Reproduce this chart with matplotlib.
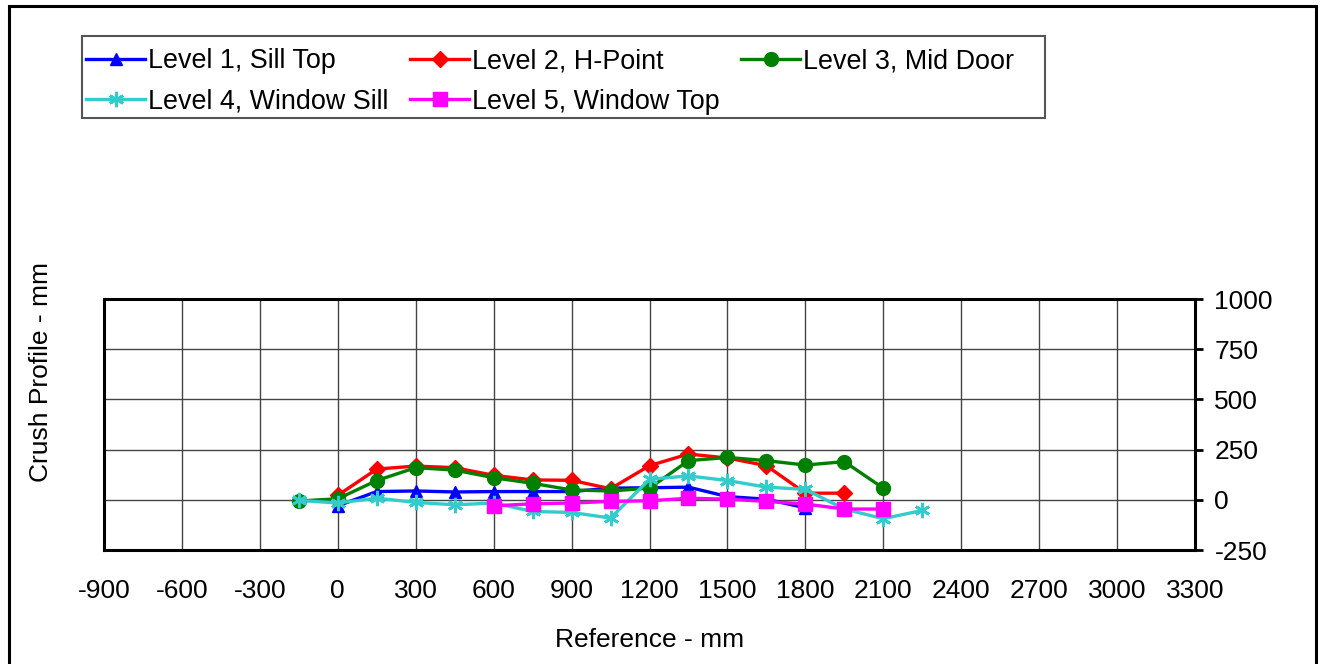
import matplotlib
matplotlib.use("Agg")
import matplotlib.pyplot as plt
from matplotlib.patches import Rectangle

plt.rcParams["font.family"] = ["Liberation Sans", "DejaVu Sans"]
plt.rcParams["font.size"] = 19
plt.rcParams["axes.unicode_minus"] = False

# data
x1 = [0, 150, 300, 450, 600, 750, 900, 1050, 1200, 1350, 1500, 1650, 1800]
y1 = [-30, 41, 44, 39, 41, 41, 41, 58, 60, 63, 16, 3, -40]

x2 = [0, 150, 300, 450, 600, 750, 900, 1050, 1200, 1350, 1500, 1650, 1800, 1950]
y2 = [22, 153, 168, 160, 122, 99, 97, 55, 170, 228, 208, 170, 33, 33]

x3 = [-150, 0, 150, 300, 450, 600, 750, 900, 1050, 1200, 1350, 1500, 1650, 1800, 1950, 2100]
y3 = [-6, 5, 96, 160, 148, 110, 82, 49, 44, 58, 195, 211, 195, 173, 190, 58]

x4 = [-150, 0, 150, 300, 450, 600, 750, 900, 1050, 1200, 1350, 1500, 1650, 1800, 1950, 2100, 2250]
y4 = [-3, -16, 8, -13, -25, -16, -58, -63, -91, 102, 119, 96, 63, 52, -46, -94, -53]

x5 = [600, 750, 900, 1050, 1200, 1350, 1500, 1650, 1800, 1950, 2100]
y5 = [-30, -20, -16, -8, -5, 8, 3, -8, -21, -46, -46]

names = ["Level 1, Sill Top", "Level 2, H-Point", "Level 3, Mid Door",
         "Level 4, Window Sill", "Level 5, Window Top"]

W, H = 1321, 664
fig = plt.figure(figsize=(W / 100, H / 100), dpi=100)
# outer chart border
fig.patches.append(Rectangle((9 / W, -0.05), 1307 / W, 1 - 6 / H + 0.05,
                             transform=fig.transFigure, fill=False,
                             edgecolor="black", linewidth=2.2))
# legend box (drawn by hand, Excel makes it wider than its entries)
fig.patches.append(Rectangle((82 / W, 1 - 118 / H), 963 / W, 82 / H,
                             transform=fig.transFigure, fill=False,
                             edgecolor="#555555", linewidth=1.5))

ax = fig.add_axes([104 / W, 1 - 550 / H, 1091 / W, 251 / H])

lw = 2.4
h1, = ax.plot(x1, y1, color="#0000FF", lw=lw, marker="^", ms=9, label=names[0])
h2, = ax.plot(x2, y2, color="#FF0000", lw=lw, marker="D", ms=8, label=names[1])
h3, = ax.plot(x3, y3, color="#008000", lw=lw, marker="o", ms=10, label=names[2])
h4, = ax.plot(x4, y4, color="#33CCCC", lw=lw, marker=(6, 2, 0), ms=11, mew=2,
              label=names[3])
h5, = ax.plot(x5, y5, color="#FF00FF", lw=lw, marker="s", ms=10, label=names[4])

ax.set_xlim(-900, 3300)
ax.set_ylim(-250, 1000)
ax.set_xticks(range(-900, 3301, 300))
ax.set_yticks(range(-250, 1001, 250))
ax.grid(True, color="#444444", linewidth=1.0)
ax.set_axisbelow(True)

for s in ax.spines.values():
    s.set_linewidth(2.2)
    s.set_color("black")

ax.yaxis.tick_right()
ax.tick_params(axis="y", direction="out", length=6, width=2, pad=8)
ax.tick_params(axis="x", length=0, pad=21)

ax.set_xlabel("Reference - mm", labelpad=18)
fig.text(41 / W, 1 - 372 / H, "Crush Profile - mm", rotation=90,
         ha="center", va="center")

leg = fig.legend([h1, h4, h2, h5, h3],
                 [names[0], names[3], names[1], names[4], names[2]],
                 ncol=3, loc="upper left", bbox_to_anchor=(86 / W, 1 - 48 / H),
                 frameon=False, handlelength=2.2, prop={"size": 19.4},
                 handletextpad=0.1, columnspacing=0.8, labelspacing=0.55,
                 borderpad=0, borderaxespad=0)

fig.savefig("out.png", dpi=100)
